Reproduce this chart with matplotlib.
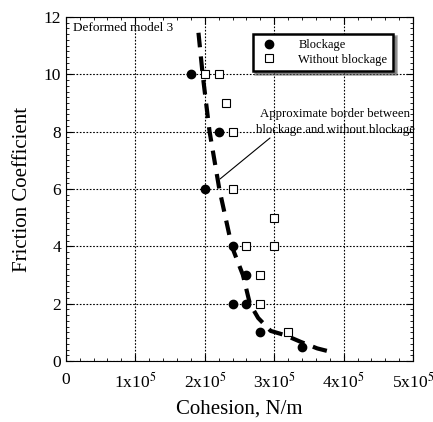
import matplotlib
matplotlib.use("Agg")
import matplotlib.pyplot as plt
from matplotlib.ticker import MultipleLocator, FixedLocator

plt.rcParams['font.family'] = ['Liberation Serif', 'DejaVu Serif']
plt.rcParams['mathtext.fontset'] = 'stix'

# Data (cohesion in N/m, friction coefficient)
block_x = [1.8e5, 2.2e5, 2.0e5, 2.4e5, 2.6e5, 2.4e5, 2.6e5, 2.8e5, 3.4e5]
block_y = [10, 8, 6, 4, 3, 2, 2, 1, 0.5]
noblock_x = [2.0e5, 2.2e5, 2.3e5, 2.4e5, 2.4e5, 3.0e5, 2.6e5, 3.0e5, 2.8e5, 2.8e5, 3.2e5]
noblock_y = [10, 10, 9, 8, 6, 5, 4, 4, 3, 2, 1]
border_x = [1.91e5, 1.97e5, 2.07e5, 2.21e5, 2.39e5, 2.55e5, 2.65e5, 2.77e5, 2.95e5,
            3.16e5, 3.38e5, 3.62e5, 3.88e5]
border_y = [11.45, 10, 8, 6, 4, 3, 2, 1.5, 1.05, 0.9, 0.67, 0.44, 0.28]
xtick_vals = [0, 1e5, 2e5, 3e5, 4e5, 5e5]
xtick_labels = ['0', '1x10$^5$', '2x10$^5$', '3x10$^5$', '4x10$^5$', '5x10$^5$']
ytick_vals = [0, 2, 4, 6, 8, 10, 12]

fig = plt.figure(figsize=(4.33, 4.22), dpi=100)
ax = fig.add_axes([0.152, 0.1445, 0.802, 0.8152])

ax.plot(border_x, border_y, color='black', lw=3, linestyle=(0, (3.5, 2.2)), zorder=2)
ax.plot(block_x, block_y, 'o', color='black', ms=6, label='Blockage', zorder=3)
ax.plot(noblock_x, noblock_y, 's', mfc='white', mec='black', mew=0.8, ms=5.5,
        label='Without blockage', zorder=3)

ax.set_xlim(0, 5e5)
ax.set_ylim(0, 12)
ax.xaxis.set_major_locator(FixedLocator(xtick_vals))
ax.set_xticklabels(xtick_labels)
ax.yaxis.set_major_locator(FixedLocator(ytick_vals))
ax.xaxis.set_minor_locator(MultipleLocator(0.2e5))
ax.yaxis.set_minor_locator(MultipleLocator(0.2))
ax.tick_params(which='both', direction='in', top=True, right=True, labelsize=12.5)
ax.tick_params(which='major', length=5, width=0.8)
ax.tick_params(which='minor', length=2.5, width=0.6)
ax.tick_params(axis='x', pad=8)
ax.grid(True, which='major', color='black', linestyle=(0, (1.5, 1.5)), lw=0.8)
ax.set_axisbelow(True)

ax.set_xlabel('Cohesion, N/m', fontsize=15, labelpad=5)
ax.set_ylabel('Friction Coefficient', fontsize=15, labelpad=8)

ax.text(0.1e5, 11.6, 'Deformed model 3', fontsize=9.5, va='center', ha='left')

ax.text(3.88e5, 8.34, 'Approximate border between\nblockage and without blockage',
        fontsize=9.2, ha='center', va='center', linespacing=1.45)
ax.annotate('', xy=(2.22e5, 6.35), xytext=(2.94e5, 7.78),
            arrowprops=dict(arrowstyle='-', color='black', lw=0.8,
                            shrinkA=0, shrinkB=0))

leg = ax.legend(loc='upper right', bbox_to_anchor=(0.96, 0.97), fontsize=9,
                frameon=True, fancybox=False, shadow=True, handletextpad=1.5,
                borderpad=0.45, labelspacing=0.2, handlelength=1.7)
leg.get_frame().set_edgecolor('black')
leg.get_frame().set_linewidth(1.8)

for s in ax.spines.values():
    s.set_linewidth(0.8)

fig.savefig('out.png', dpi=100)
